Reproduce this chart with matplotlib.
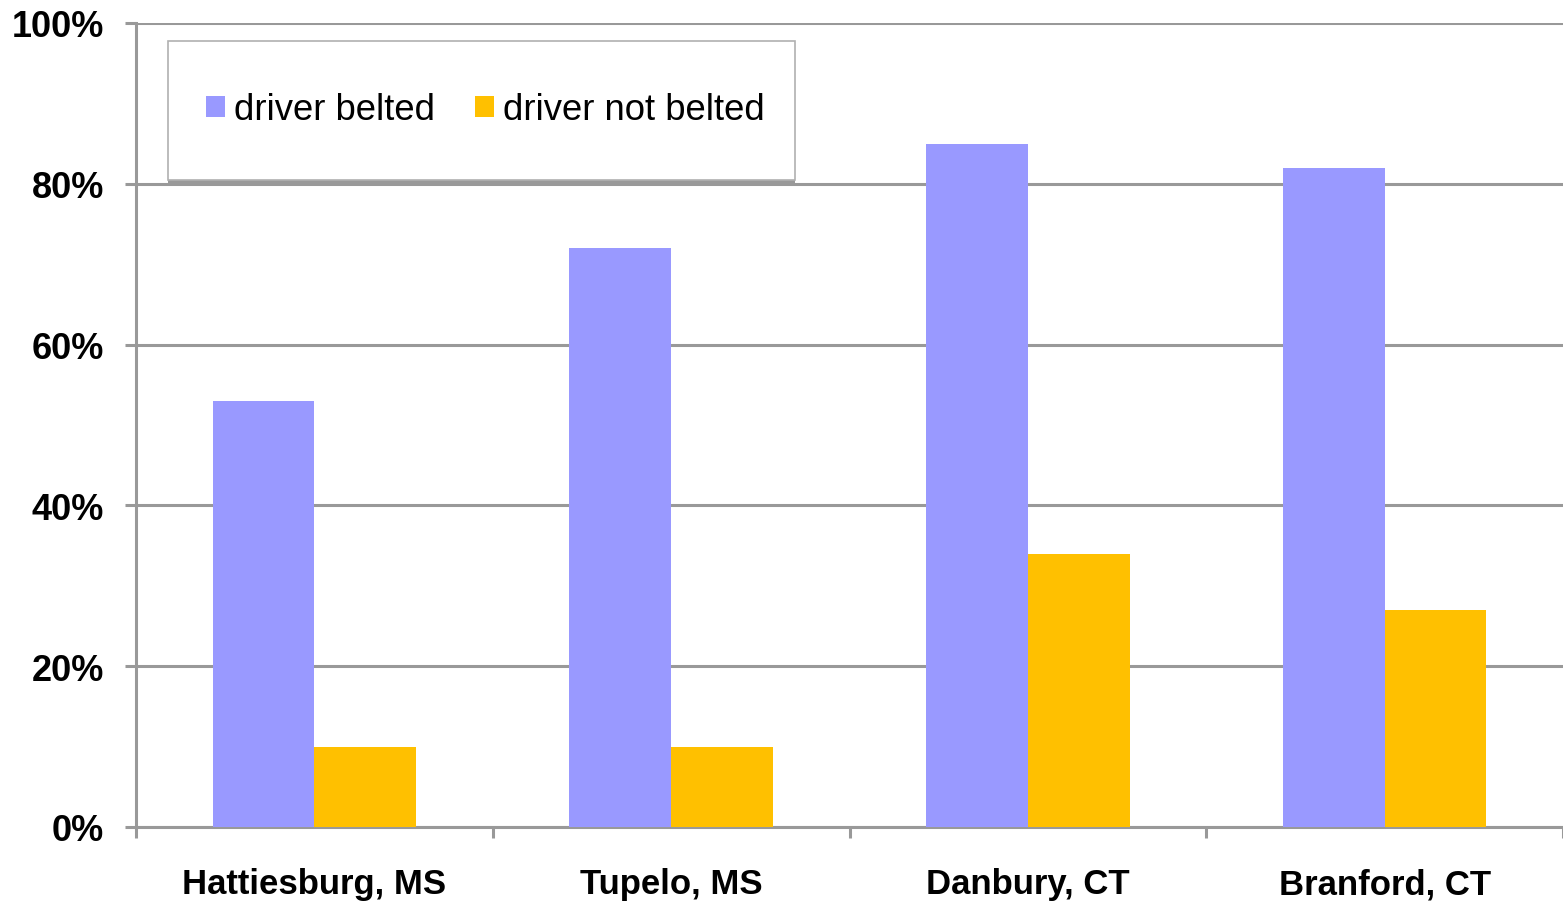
import matplotlib
matplotlib.use("Agg")
import matplotlib.pyplot as plt
import numpy as np
from matplotlib.patches import Rectangle
from matplotlib.ticker import FixedLocator, FuncFormatter

cities = ["Hattiesburg, MS", "Tupelo, MS", "Danbury, CT", "Branford, CT"]
belted = [53, 72, 85, 82]
not_belted = [10, 10, 34, 27]
series_labels = ["driver belted", "driver not belted"]
y_ticks = [0, 20, 40, 60, 80, 100]

BLUE = "#9999ff"
GOLD = "#ffc000"
GRID = "#999999"

plt.rcParams["font.family"] = ["Liberation Sans", "DejaVu Sans"]

fig = plt.figure(figsize=(15.63, 9.04), dpi=100)
ax = fig.add_axes([136 / 1563, 1 - 828 / 904, 1427 / 1563, 804 / 904])

x = np.arange(len(cities))
w = 0.285
ax.bar(x - w / 2, belted, w, color=BLUE, label=series_labels[0], zorder=3)
ax.bar(x + w / 2, not_belted, w, color=GOLD, label=series_labels[1], zorder=3)

ax.set_xlim(-0.5, 3.49)
ax.set_ylim(0, 100)
ax.yaxis.set_major_locator(FixedLocator(y_ticks))
ax.yaxis.set_major_formatter(FuncFormatter(lambda v, p: f"{v:.0f}%"))
ax.grid(axis="y", color=GRID, lw=2.2, zorder=1)
ax.set_xticks(x)
ax.set_xticklabels(cities)
ax.set_xticks(np.arange(-0.5, 3.6, 1), minor=True)
ax.tick_params(axis="x", which="major", length=0, pad=29, labelsize=25)
ax.tick_params(axis="x", which="minor", length=8, width=2.2, color=GRID)
ax.tick_params(axis="y", length=8, width=2.2, color=GRID, pad=15, labelsize=26)
for lab in ax.get_xticklabels() + ax.get_yticklabels():
    lab.set_fontweight("bold")

for side in ["top", "right"]:
    ax.spines[side].set_visible(False)
for side in ["left", "bottom"]:
    ax.spines[side].set_color(GRID)
    ax.spines[side].set_linewidth(2.2)

# legend box with shadow underneath
x0, x1 = (168 - 136) / 1427, (795 - 136) / 1427
y0, y1 = (828 - 181) / 804, (828 - 42) / 804
ax.add_patch(Rectangle((x0, y0 - 0.0065), x1 - x0, y1 - y0, transform=ax.transAxes,
                       facecolor=GRID, edgecolor="none", zorder=5, clip_on=False))
ax.add_patch(Rectangle((x0, y0), x1 - x0, y1 - y0, transform=ax.transAxes,
                       facecolor="white", edgecolor="#b0b0b0", lw=1.2, zorder=6, clip_on=False))
leg = ax.legend(loc="center left", bbox_to_anchor=((206 - 136) / 1427, (828 - 111) / 804),
                ncol=2, frameon=False, fontsize=26.3, handlelength=0.52, handleheight=0.52,
                handletextpad=0.25, columnspacing=1.1, borderpad=0, borderaxespad=0)
leg.set_zorder(7)

fig.savefig("out.png", dpi=100)
